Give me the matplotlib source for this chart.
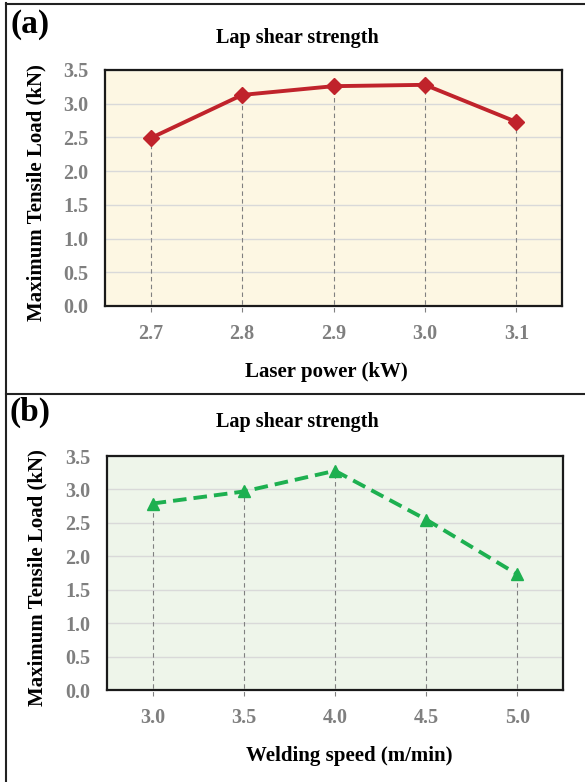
import matplotlib
matplotlib.use("Agg")
import matplotlib.pyplot as plt
from matplotlib.lines import Line2D

plt.rcParams['font.family'] = ['Liberation Serif', 'DejaVu Serif']
plt.rcParams['font.weight'] = 'bold'

# Data
power = [2.7, 2.8, 2.9, 3.0, 3.1]
load_power = [2.49, 3.13, 3.26, 3.28, 2.73]

speed = [3.0, 3.5, 4.0, 4.5, 5.0]
load_speed = [2.79, 2.97, 3.28, 2.55, 1.73]

yticks = [0.0, 0.5, 1.0, 1.5, 2.0, 2.5, 3.0, 3.5]

fig = plt.figure(figsize=(5.85, 7.82), dpi=100)

grey = "#7f7f7f"


def panel(rect, x, y, xlim, face, color, marker, ls, xlabel, tag, tag_y, title_y, xl_pos, yl_pos):
    ax = fig.add_axes(rect)
    ax.set_facecolor(face)
    ax.set_xlim(*xlim)
    ax.set_ylim(0, 3.5)
    ax.set_yticks(yticks)
    ax.set_yticklabels(["%.1f" % v for v in yticks])
    ax.set_xticks(x)
    ax.set_xticklabels(["%.1f" % v for v in x])
    ax.tick_params(length=0, labelsize=14.5, labelcolor=grey)
    ax.tick_params(axis="y", pad=12)
    ax.tick_params(axis="x", pad=13)
    ax.yaxis.grid(True, color="#d9d9d9", lw=1)
    ax.set_axisbelow(True)
    for s in ax.spines.values():
        s.set_color("#1a1a1a")
        s.set_linewidth(1.6)
    # drop lines
    for xi, yi in zip(x, y):
        ax.add_line(Line2D([xi, xi], [-0.09, yi], color="#808080", lw=0.8,
                           ls=(0, (4, 3)), clip_on=False, zorder=2))
    ax.plot(x, y, color=color, lw=2.8, ls=ls, marker=marker, ms=8,
            zorder=3, clip_on=False)
    fig.text(297 / 585, 1 - title_y / 782, "Lap shear strength", ha="center",
             va="center", fontsize=14.5, weight="bold")
    fig.text(xl_pos[0] / 585, 1 - xl_pos[1] / 782, xlabel, ha="center",
             va="center", fontsize=15, weight="bold")
    fig.text(yl_pos[0] / 585, 1 - yl_pos[1] / 782, "Maximum Tensile Load (kN)",
             ha="center", va="center", rotation=90, fontsize=15, weight="bold")
    fig.text(30 / 585, 1 - tag_y / 782, tag, ha="center", va="center",
             fontsize=24, weight="bold")
    return ax


panel([0.1795, 0.6087, 0.7812, 0.3018], power, load_power, (2.65, 3.15),
      "#fdf7e3", "#c0232b", "D", "-", "Laser power (kW)", "(a)", 25, 38,
      (326, 372), (36, 193))

panel([0.1829, 0.1176, 0.7795, 0.2992], speed, load_speed, (2.75, 5.25),
      "#eef5ea", "#1db050", "^", (0, (3.5, 1.8)), "Welding speed (m/min)", "(b)", 412, 422,
      (349, 756), (37, 578))

# frame lines
fig.add_artist(Line2D([6 / 585, 6 / 585], [0, 1 - 3 / 782], color="#222222", lw=1.5))
fig.add_artist(Line2D([6 / 585, 1], [1 - 4 / 782, 1 - 4 / 782], color="#222222", lw=1.5))
fig.add_artist(Line2D([6 / 585, 1], [1 - 394 / 782, 1 - 394 / 782], color="#222222", lw=1.5))

fig.savefig("out.png", dpi=100)
